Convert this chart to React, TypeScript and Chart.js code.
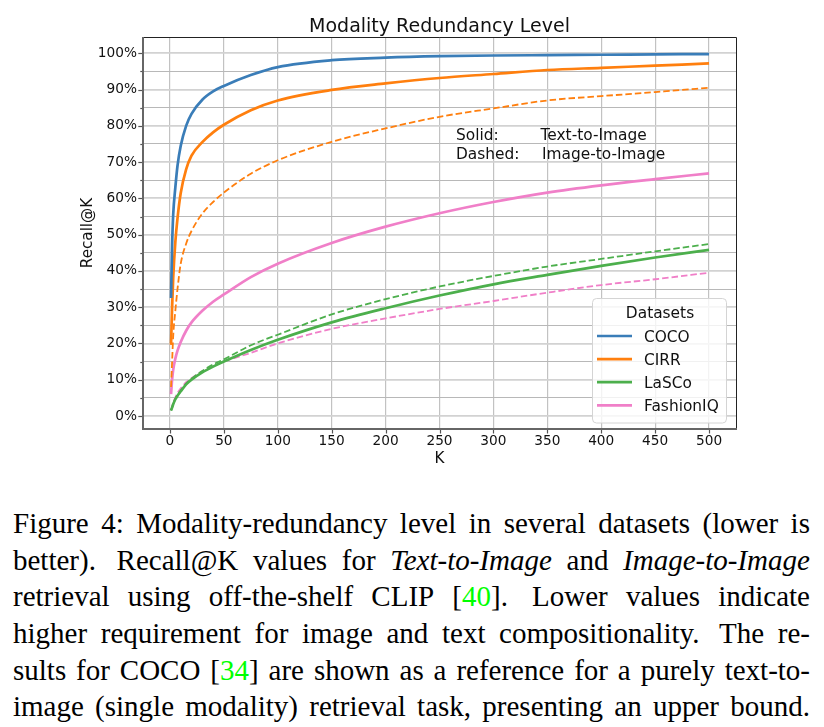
import React, { useEffect, useRef } from "react";
import { Chart, registerables } from "chart.js";

Chart.register(...registerables);

// ---------------- data ----------------
const K = [1, 2, 3, 5, 7, 10, 15, 20, 30, 40, 50, 75, 100, 150, 200, 250, 300, 350, 400, 450, 500];

const cocoText = [32.5, 47, 55.5, 63, 69, 74.5, 80, 83.3, 87.2, 89.5, 91, 94, 96.2, 98.1, 98.8, 99.2, 99.4, 99.5, 99.6, 99.7, 99.8];
const cirrText = [19.6, 30, 38, 48, 54.5, 61.5, 68, 71.8, 75.5, 78.2, 80.3, 84.3, 87, 89.9, 91.7, 93.2, 94.3, 95.4, 96, 96.6, 97.2];
const cirrImage = [8, 15, 22, 29, 35, 42, 47.5, 51, 55.8, 59, 61.6, 66.8, 70.5, 75.6, 79.3, 82.5, 84.8, 87, 88.2, 89.3, 90.5];
const lascoText = [1.5, 2.3, 3.2, 4.6, 5.6, 6.8, 8.7, 10, 12, 13.6, 15, 18.2, 21, 25.8, 29.7, 33.2, 36.3, 38.9, 41.4, 43.7, 45.8];
const lascoImage = [1.5, 2.4, 3.3, 4.7, 5.8, 7, 8.9, 10.3, 12.4, 14.2, 15.6, 19.5, 22.4, 28, 32.2, 35.7, 38.6, 41.2, 43.3, 45.4, 47.4];
const fashionText = [6, 10, 12.7, 15.8, 18, 20.4, 23.5, 25.8, 29, 31.5, 33.5, 38.3, 42, 47.7, 52.2, 55.9, 59, 61.6, 63.6, 65.3, 66.9];
const fashionImage = [1.6, 2.6, 3.6, 5.1, 6.3, 7.6, 9.3, 10.4, 12.3, 13.8, 15, 17.4, 20, 24, 26.9, 29.5, 31.7, 34, 36.1, 37.7, 39.5];

const datasetNames = ["COCO", "CIRR", "LaSCo", "FashionIQ"];
const datasetColors = ["#3a7db8", "#ff7f0e", "#4caf4c", "#f07fc8"];

const xTickValues = [0, 50, 100, 150, 200, 250, 300, 350, 400, 450, 500];
const yTickValues = [0, 5, 10, 15, 20, 25, 30, 35, 40, 45, 50, 55, 60, 65, 70, 75, 80, 85, 90, 95, 100];

const chartTitle = "Modality Redundancy Level";
const xTitle = "K";
const yTitle = "Recall@K";
const noteRows = [
  ["Solid:", "Text-to-Image"],
  ["Dashed:", "Image-to-Image"],
];
const legendTitle = "Datasets";

// ---------------- caption ----------------
type Part = string | { t: string; i?: boolean; g?: boolean };
type Word = { parts: Part[]; sp?: boolean };
const w = (...parts: Part[]): Word => ({ parts });
const ws = (...parts: Part[]): Word => ({ parts, sp: true });
const words = (s: string): Word[] => s.split(" ").map((x) => w(x));

const captionLines: Word[][] = [
  words("Figure 4: Modality-redundancy level in several datasets (lower is"),
  [w("better)."), ws("Recall@K"), ...words("values for"), w({ t: "Text-to-Image", i: true }), w("and"), w({ t: "Image-to-Image", i: true })],
  [...words("retrieval using off-the-shelf CLIP"), w("[", { t: "40", g: true }, "]."), ws("Lower"), ...words("values indicate")],
  [...words("higher requirement for image and text compositionality."), ws("The"), w("re-")],
  [...words("sults for COCO"), w("[", { t: "34", g: true }, "]"), ...words("are shown as a reference for a purely text-to-")],
  words("image (single modality) retrieval task, presenting an upper bound."),
];

const FONT = '"DejaVu Sans", Verdana, sans-serif';
const TXT = "#111";

const pts = (vals: number[]) => K.map((k, i) => ({ x: k, y: vals[i] }));

const overlayPlugin = {
  id: "overlay",
  afterDraw(chart: any) {
    const { ctx, chartArea: a, scales } = chart;
    const xs = scales.x;
    const ys = scales.y;
    ctx.save();

    // tick marks
    ctx.strokeStyle = "#555";
    ctx.lineWidth = 1.2;
    ys.ticks.forEach((t: any) => {
      const py = Math.round(ys.getPixelForValue(t.value)) + 0.5;
      const len = t.value % 10 === 0 ? 4.7 : 2.7;
      ctx.beginPath();
      ctx.moveTo(a.left - len, py);
      ctx.lineTo(a.left, py);
      ctx.stroke();
    });
    xs.ticks.forEach((t: any) => {
      const px = Math.round(xs.getPixelForValue(t.value)) + 0.5;
      ctx.beginPath();
      ctx.moveTo(px, a.bottom);
      ctx.lineTo(px, a.bottom + 4.5);
      ctx.stroke();
    });

    // frame
    ctx.strokeStyle = "#222";
    ctx.lineWidth = 1;
    ctx.beginPath();
    ctx.moveTo(a.left, a.top + 0.5);
    ctx.lineTo(a.right + 0.5, a.top + 0.5);
    ctx.lineTo(a.right + 0.5, a.bottom);
    ctx.stroke();
    ctx.strokeStyle = "#666";
    ctx.lineWidth = 2;
    ctx.beginPath();
    ctx.moveTo(a.left, a.top);
    ctx.lineTo(a.left, a.bottom);
    ctx.lineTo(a.right + 1, a.bottom);
    ctx.stroke();

    ctx.fillStyle = TXT;
    // title
    ctx.font = `19px ${FONT}`;
    ctx.textAlign = "center";
    ctx.textBaseline = "alphabetic";
    const cx = (a.left + a.right) / 2;
    ctx.fillText(chartTitle, cx, a.top - 5);

    // axis titles
    ctx.font = `15.2px ${FONT}`;
    ctx.fillText(xTitle, cx, a.bottom + 34);
    ctx.save();
    ctx.translate(a.left - 51.5, (a.top + a.bottom) / 2);
    ctx.rotate(-Math.PI / 2);
    ctx.fillText(yTitle, 0, 0);
    ctx.restore();

    // annotation
    ctx.font = `15.4px ${FONT}`;
    ctx.textAlign = "left";
    const nx0 = a.left + 313;
    const nx1 = a.left + 397.5;
    ctx.fillText(noteRows[0][0], nx0, a.top + 103.3);
    ctx.fillText(noteRows[0][1], nx1, a.top + 103.3);
    ctx.fillText(noteRows[1][0], nx0, a.top + 121.7);
    ctx.fillText(noteRows[1][1], nx1 + 1.5, a.top + 121.7);

    // legend
    const lx = a.right - 143.5;
    const ly = a.top + 261.5;
    const lw = 134;
    const lh = 124.5;
    ctx.beginPath();
    (ctx as any).roundRect(lx, ly, lw, lh, 4);
    ctx.fillStyle = "rgba(255,255,255,0.8)";
    ctx.fill();
    ctx.strokeStyle = "#d4d4d4";
    ctx.lineWidth = 1;
    ctx.stroke();
    ctx.fillStyle = TXT;
    ctx.textAlign = "center";
    ctx.fillText(legendTitle, lx + 67.5, ly + 19.2);
    ctx.textAlign = "left";
    datasetNames.forEach((name, i) => {
      const yy = ly + 37.5 + i * 23.1;
      ctx.strokeStyle = datasetColors[i];
      ctx.lineWidth = 2.7;
      ctx.beginPath();
      ctx.moveTo(lx + 4.5, yy);
      ctx.lineTo(lx + 39.5, yy);
      ctx.stroke();
      ctx.fillStyle = TXT;
      ctx.fillText(name, lx + 51.5, yy + 5.7);
    });

    ctx.restore();
  },
};

export default function App() {
  const ref = useRef<HTMLCanvasElement | null>(null);

  useEffect(() => {
    if (!ref.current) return;
    const solid = (i: number, vals: number[]) => ({
      label: datasetNames[i],
      data: pts(vals),
      borderColor: datasetColors[i],
      backgroundColor: datasetColors[i],
      borderWidth: 2.7,
      pointRadius: 0,
      fill: false,
      cubicInterpolationMode: "monotone" as const,
      borderJoinStyle: "round" as const,
    });
    const dashed = (i: number, vals: number[]) => ({
      ...solid(i, vals),
      label: datasetNames[i] + " (Image-to-Image)",
      borderWidth: 1.8,
      borderDash: [6.5, 3],
    });

    const chart = new Chart(ref.current, {
      type: "line",
      data: {
        datasets: [
          solid(0, cocoText),
          solid(1, cirrText),
          dashed(1, cirrImage),
          solid(2, lascoText),
          dashed(2, lascoImage),
          solid(3, fashionText),
          dashed(3, fashionImage),
        ],
      },
      options: {
        animation: false,
        responsive: false,
        devicePixelRatio: 1,
        layout: { padding: { left: 70, right: 88, top: 37, bottom: 21 } },
        plugins: {
          legend: { display: false },
          tooltip: { enabled: false },
          title: { display: false },
        },
        scales: {
          x: {
            type: "linear",
            min: -25,
            max: 525,
            border: { display: false },
            grid: { color: "#c2c2c2", lineWidth: 1.2, drawTicks: false },
            afterBuildTicks: (s: any) => {
              s.ticks = xTickValues.map((v) => ({ value: v }));
            },
            ticks: {
              autoSkip: false,
              maxRotation: 0,
              padding: 4,
              color: TXT,
              font: { family: FONT, size: 13.7 },
            },
            afterFit: (s: any) => {
              s.height = 30;
            },
          },
          y: {
            type: "linear",
            min: -3.6,
            max: 104.5,
            border: { display: false },
            grid: {
              drawTicks: false,
              color: (c: any) => (c.tick && c.tick.value % 10 === 0 ? "#d2d2d2" : "#b8b8b8"),
              lineWidth: (c: any) => (c.tick && c.tick.value % 10 === 0 ? 1.8 : 1),
            },
            afterBuildTicks: (s: any) => {
              s.ticks = yTickValues.map((v) => ({ value: v }));
            },
            ticks: {
              autoSkip: false,
              padding: 6,
              color: TXT,
              font: { family: FONT, size: 13.7 },
              callback: (v: any) => (Number(v) % 10 === 0 ? `${v}%` : ""),
            },
            afterFit: (s: any) => {
              s.width = 73;
            },
          },
        },
      },
      plugins: [overlayPlugin],
    });
    return () => chart.destroy();
  }, []);

  return (
    <div style={{ position: "absolute", left: 0, top: 0, width: 824, height: 727, background: "#fff", overflow: "hidden" }}>
      <canvas ref={ref} width={824} height={480} style={{ display: "block", width: 824, height: 480 }} />
      <div
        style={{
          position: "absolute",
          left: 13,
          top: 505.2,
          width: 797,
          fontFamily: '"Liberation Serif", "Times New Roman", serif',
          fontSize: 29,
          color: "#000",
        }}
      >
        {captionLines.map((line, i) => (
          <div
            key={i}
            style={{ display: "flex", justifyContent: "space-between", alignItems: "baseline", height: 36.6, lineHeight: "36.6px", whiteSpace: "nowrap" }}
          >
            {line.map((wd, j) => (
              <span key={j} style={{ marginLeft: wd.sp ? 6 : 0 }}>
                {wd.parts.map((p, k) =>
                  typeof p === "string" ? (
                    <React.Fragment key={k}>{p}</React.Fragment>
                  ) : (
                    <span key={k} style={{ fontStyle: p.i ? "italic" : "normal", color: p.g ? "#00ff00" : undefined }}>
                      {p.t}
                    </span>
                  )
                )}
              </span>
            ))}
          </div>
        ))}
      </div>
    </div>
  );
}
